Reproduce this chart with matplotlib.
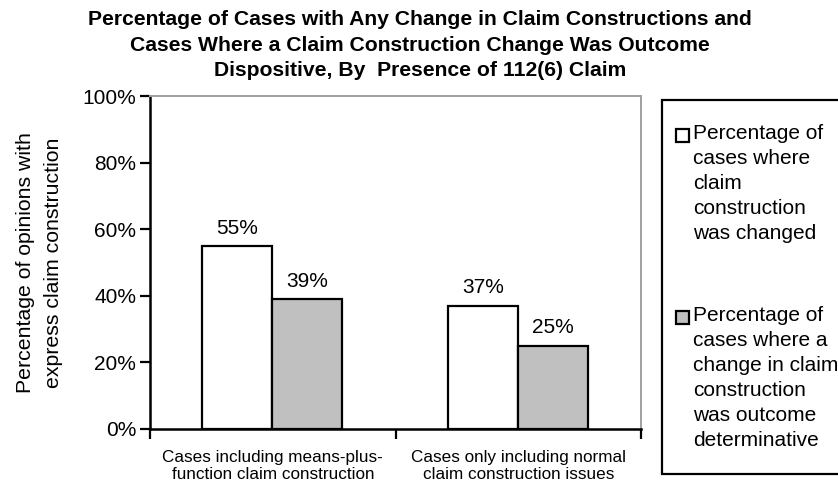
import matplotlib
matplotlib.use("Agg")
import matplotlib.pyplot as plt
from matplotlib.patches import Rectangle
from matplotlib.ticker import FixedLocator, NullFormatter, FixedFormatter

plt.rcParams['font.family'] = ['Liberation Sans', 'DejaVu Sans']

categories = ["Cases including means-plus-\nfunction claim construction",
              "Cases only including normal\nclaim construction issues"]
changed = [55, 37]
dispositive = [39, 25]
series_names = ["Percentage of\ncases where\nclaim\nconstruction\nwas changed",
                "Percentage of\ncases where a\nchange in claim\nconstruction\nwas outcome\ndeterminative"]
yticks = [0, 20, 40, 60, 80, 100]
title = ("Percentage of Cases with Any Change in Claim Constructions and\n"
         "Cases Where a Claim Construction Change Was Outcome\n"
         "Dispositive, By  Presence of 112(6) Claim")

W, H = 838, 484
fig = plt.figure(figsize=(W / 100, H / 100), dpi=100)
ax = fig.add_axes([150 / W, 1 - 429 / H, (641 - 150) / W, (429 - 96) / H])

bar_w = 0.285
centers = [0.5, 1.5]
colors = ["white", "#C0C0C0"]
for vals, off, col in [(changed, -bar_w / 2, colors[0]), (dispositive, bar_w / 2, colors[1])]:
    xs = [c + off - 0.002 for c in centers]
    ax.bar(xs, vals, width=bar_w, color=col, edgecolor="black", linewidth=1.6, zorder=3)
    for x, v in zip(xs, vals):
        ax.annotate(f"{v}%", (x, v), xytext=(0, 6), textcoords="offset points",
                    ha="center", va="bottom", fontsize=15)

ax.set_xlim(0, 2)
ax.set_ylim(0, 100)
ax.set_yticks(yticks)
ax.set_yticklabels([f"{t}%" for t in yticks], fontsize=15)
ax.tick_params(axis="y", direction="out", length=7, width=1.6, pad=3)

ax.xaxis.set_major_locator(FixedLocator([0, 1, 2]))
ax.xaxis.set_major_formatter(NullFormatter())
ax.xaxis.set_minor_locator(FixedLocator(centers))
ax.xaxis.set_minor_formatter(FixedFormatter(categories))
ax.tick_params(axis="x", which="major", direction="out", length=7, width=1.6)
ax.tick_params(axis="x", which="minor", length=0, pad=15, labelsize=12.3)
for lbl in ax.xaxis.get_minorticklabels():
    lbl.set_linespacing(1.15)

for s in ["left", "bottom"]:
    ax.spines[s].set_linewidth(1.8)
    ax.spines[s].set_color("black")
for s in ["top", "right"]:
    ax.spines[s].set_linewidth(1.4)
    ax.spines[s].set_color("#A0A0A0")

ax.set_ylabel("Percentage of opinions with\nexpress claim construction", fontsize=15.3,
              linespacing=1.58, labelpad=14)

fig.text(420 / W, 1 - 10 / H, title, ha="center", va="top", fontsize=15.2,
         fontweight="bold", linespacing=1.45)

# Legend panel drawn in figure pixels
fig.add_artist(Rectangle((662 / W, 1 - 474 / H), (W + 20 - 662) / W, (474 - 100) / H,
                         transform=fig.transFigure, facecolor="white", edgecolor="black",
                         linewidth=1.6, clip_on=False))
for name, col, ytop in [(series_names[0], colors[0], 124), (series_names[1], colors[1], 306)]:
    fig.add_artist(Rectangle((676 / W, 1 - (ytop + 18) / H), 13 / W, 13 / H,
                             transform=fig.transFigure, facecolor=col, edgecolor="black",
                             linewidth=1.6))
    fig.text(693 / W, 1 - ytop / H, name, ha="left", va="top", fontsize=15,
             linespacing=1.4)

fig.savefig("out.png", dpi=100)
